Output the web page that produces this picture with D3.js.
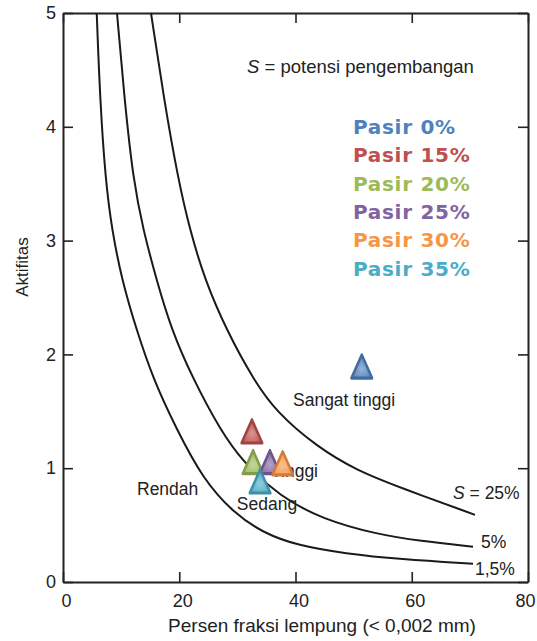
<!DOCTYPE html>
<html>
<head>
<meta charset="utf-8">
<script src="https://cdn.jsdelivr.net/npm/d3@7"></script>
<style>
  html, body { margin: 0; padding: 0; background: #ffffff; }
  svg { display: block; }
  text { font-family: "Liberation Sans", Arial, sans-serif; fill: #222; }
</style>
</head>
<body>
<script>
// ---------- data ----------
const xTicks = [0, 20, 40, 60, 80];
const yTicks = [0, 1, 2, 3, 4, 5];

// swell-potential curves (clay fraction %, activity)
const curveS15X = [5.80, 6.37, 7.31, 8.43, 10.15, 12.68, 15.54, 19.56, 24.14, 29.30, 34.46, 40.43, 48.52, 57.98, 70.54];
const curveS15Y = [5.00, 4.24, 3.53, 3.09, 2.65, 2.21, 1.78, 1.34, 0.90, 0.61, 0.43, 0.32, 0.25, 0.20, 0.16];
const curveS5X  = [9.29, 10.58, 12.09, 13.81, 16.12, 18.70, 22.42, 27.01, 31.02, 37.33, 44.73, 53.97, 61.42, 70.54];
const curveS5Y  = [5.00, 4.24, 3.53, 3.09, 2.65, 2.21, 1.78, 1.34, 1.05, 0.75, 0.55, 0.42, 0.36, 0.31];
const curveS25X = [15.14, 17.38, 19.84, 21.85, 24.43, 28.16, 32.74, 36.77, 43.65, 50.53, 57.98, 70.88];
const curveS25Y = [5.00, 4.24, 3.53, 3.09, 2.65, 2.21, 1.78, 1.49, 1.19, 0.98, 0.83, 0.59];
const curveLabels = ["1,5%", "5%", "S = 25%"];

// sample points
const sandLabels = ["Pasir 0%", "Pasir 15%", "Pasir 20%", "Pasir 25%", "Pasir 30%", "Pasir 35%"];
const sandX = [51.4, 32.5, 32.7, 35.6, 37.8, 33.9];
const sandY = [1.86, 1.29, 1.02, 1.02, 1.01, 0.85];
const sandColors = ["#4F81BD", "#C0504D", "#9BBB59", "#8064A2", "#F79646", "#4BACC6"];

const zoneLabels = ["Rendah", "Sedang", "Tinggi", "Sangat tinggi"];

// ---------- drawing ----------
const W = 537, H = 641;
const svg = d3.select("body").append("svg").attr("width", W).attr("height", H);

const x = d3.scaleLinear().domain([0, 80]).range([63, 528]);
const y = d3.scaleLinear().domain([0, 5]).range([582, 13]);

// gradients for markers
const defs = svg.append("defs");
sandColors.forEach((c, i) => {
  const g = defs.append("radialGradient").attr("id", "grad" + i)
    .attr("cx", "50%").attr("cy", "60%").attr("r", "60%");
  g.append("stop").attr("offset", "0%").attr("stop-color", d3.interpolateRgb(c, "#ffffff")(0.4));
  g.append("stop").attr("offset", "100%").attr("stop-color", c);
});

// axes with inward ticks
const axB = svg.append("g").attr("transform", `translate(0,${y(0)})`)
  .call(d3.axisBottom(x).tickValues(xTicks).tickSizeInner(-10).tickSizeOuter(0).tickPadding(12).tickFormat(d3.format("d")));
const axT = svg.append("g").attr("transform", `translate(0,${y(5)})`)
  .call(d3.axisTop(x).tickValues(xTicks).tickSizeInner(-10).tickSizeOuter(0).tickFormat(""));
const axL = svg.append("g").attr("transform", `translate(${x(0)},0)`)
  .call(d3.axisLeft(y).tickValues(yTicks).tickSizeInner(-10).tickSizeOuter(0).tickPadding(7).tickFormat(d3.format("d")));
const axR = svg.append("g").attr("transform", `translate(${x(80)},0)`)
  .call(d3.axisRight(y).tickValues(yTicks).tickSizeInner(-10).tickSizeOuter(0).tickFormat(""));

[axB, axT, axL, axR].forEach(a => {
  a.select(".domain").attr("stroke", "#222").attr("stroke-width", 2);
  a.selectAll(".tick line").attr("stroke", "#222").attr("stroke-width", 1.6);
  a.selectAll(".tick text").attr("fill", "#222").style("font-size", "18px")
    .style("font-family", "'Liberation Sans', Arial, sans-serif");
});
axB.selectAll(".tick text").attr("dx", d => d === 80 ? "-3" : "3");

// axis titles
svg.append("text").attr("x", 322).attr("y", 632).attr("text-anchor", "middle")
  .style("font-size", "19px").text("Persen fraksi lempung (< 0,002 mm)");
svg.append("text").attr("transform", "translate(28,267) rotate(-90)").attr("text-anchor", "middle")
  .style("font-size", "17px").text("Aktifitas");

// curves
const line = d3.line().x(d => x(d[0])).y(d => y(d[1])).curve(d3.curveBasis);
const curves = [
  d3.zip(curveS15X, curveS15Y),
  d3.zip(curveS5X, curveS5Y),
  d3.zip(curveS25X, curveS25Y)
];
svg.append("g").selectAll("path").data(curves).join("path")
  .attr("d", line).attr("fill", "none").attr("stroke", "#1a1a1a").attr("stroke-width", 2);

// curve labels
const curveLabelPos = [[475, 575], [481, 548], [453, 499]];
curveLabels.forEach((t, i) => {
  const tx = svg.append("text").attr("x", curveLabelPos[i][0]).attr("y", curveLabelPos[i][1])
    .style("font-size", "17.5px");
  if (t.startsWith("S")) {
    tx.append("tspan").style("font-style", "italic").text("S");
    tx.append("tspan").text(t.slice(1));
  } else tx.text(t);
});

// zone labels
const zonePos = [[137, 495, "start"], [267, 510, "middle"], [318, 477, "end"], [293, 406, "start"]];
zoneLabels.forEach((t, i) => {
  svg.append("text").attr("x", zonePos[i][0]).attr("y", zonePos[i][1])
    .attr("text-anchor", zonePos[i][2]).style("font-size", "17.5px").text(t);
});

// S = potensi pengembangan
const st = svg.append("text").attr("x", 247).attr("y", 73).style("font-size", "18.5px");
st.append("tspan").style("font-style", "italic").text("S");
st.append("tspan").text(" = potensi pengembangan");

// coloured labels
svg.append("g").selectAll("text").data(sandLabels).join("text")
  .attr("x", 353).attr("y", (d, i) => 134 + i * 28.3)
  .style("font-family", "'DejaVu Sans', Verdana, sans-serif")
  .style("font-weight", "bold").style("font-size", "20px").style("letter-spacing", "0.7px")
  .style("fill", (d, i) => sandColors[i]).text(d => d);

// markers (triangles)
const tri = d3.symbol().type(d3.symbolTriangle).size(185);
const order = [0, 1, 2, 3, 4, 5];
svg.append("g").selectAll("path").data(order).join("path")
  .attr("d", tri)
  .attr("transform", i => `translate(${x(sandX[i])},${y(sandY[i])}) scale(1,1.3)`)
  .attr("fill", i => `url(#grad${i})`)
  .attr("stroke", i => d3.color(sandColors[i]).darker(0.5))
  .attr("stroke-width", 2.4).attr("stroke-linejoin", "round");
</script>
</body>
</html>
